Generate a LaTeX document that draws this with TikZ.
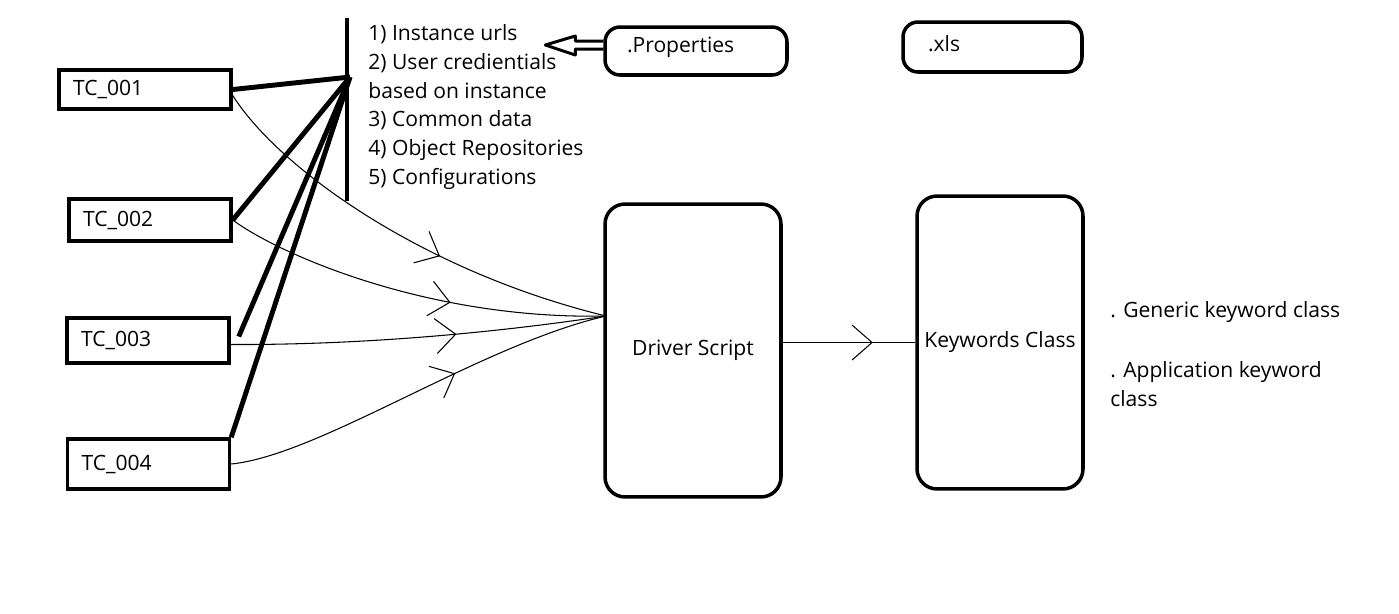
\documentclass[tikz,border=0pt]{standalone}
\usepackage{fontspec}
\setmainfont{Open Sans}
\usetikzlibrary{arrows.meta,decorations.markings}

\tikzset{
  tcbox/.style={draw, line width=2pt, inner xsep=0.28cm, text width=2.68cm, align=left},
  smallbox/.style={draw, line width=2pt, rounded corners=0.3cm, align=left},
  tallbox/.style={draw, line width=2pt, rounded corners=0.4cm, minimum height=5.86cm},
  heavy/.style={line width=2.8pt},
  hollow/.style={line width=1.7pt, line join=round},
  flow/.style={line width=0.6pt, postaction={decorate},
    decoration={markings, mark=at position #1 with {\arrow{Straight Barb[length=0.4cm,width=0.7cm]}}}},
  flow/.default=0.6
}

\begin{document}
\begin{tikzpicture}[x=0.02cm,y=-0.02cm,
  every node/.style={font=\fontsize{12pt}{16.4pt}\selectfont}]
  \fill[white] (0,0) rectangle (1399,613);
  \useasboundingbox (0,0) rectangle (1399,613);

  % test case boxes
  \node[tcbox, minimum height=0.78cm, text width=2.88cm] (tc1) at (145,89.5) {TC\_001};
  \node[tcbox, minimum height=0.84cm] (tc2) at (150,220) {TC\_002};
  \node[tcbox, minimum height=0.9cm]  (tc3) at (148,340.5) {TC\_003};
  \node[tcbox, minimum height=1.0cm]  (tc4) at (148.5,464) {TC\_004};

  % common inputs
  \coordinate (bartop) at (347,18);
  \coordinate (barbot) at (347,201);
  \coordinate (hub) at (350,77);
  \draw[heavy] (bartop) -- (barbot);
  \node[anchor=north west, inner sep=0, align=left] (list) at (368,24)
    {1) Instance urls\\2) User credientials\\based on instance\\3) Common data\\4) Object Repositories\\5) Configurations};

  \draw[heavy] (tc1.east) -- (hub);
  \draw[heavy] (tc2.east) -- (hub);
  \draw[heavy] ([xshift=0.16cm,yshift=0.08cm]tc3.east) -- (hub);
  \draw[heavy] (tc4.north east) -- (hub);

  % files
  \node[smallbox, minimum height=0.96cm, inner xsep=0.44cm, text width=2.76cm,
    text height=0.3cm, text depth=0.26cm] (props) at (696,51) {.Properties};
  \node[smallbox, minimum height=1.0cm, inner xsep=0.5cm, text width=2.58cm,
    text height=0.32cm, text depth=0.16cm] (xls) at (992.5,47) {.xls};
  \draw[hollow] ([yshift=0.2cm]props.west) -- ++(-28,0) -- ++(0,-5) -- ++(-30,9)
    -- ++(30,10) -- ++(0,-6) -- ([yshift=0.04cm]props.west);

  % driver and keywords
  \node[tallbox, minimum width=3.52cm] (driver) at (693,350.5) {Driver Script};
  \node[tallbox, minimum width=3.32cm] (kw) at (1000,342.5) {Keywords Class};
  \coordinate (drvin) at (606,316);

  \draw[flow] ([yshift=-0.12cm]tc1.east) .. controls (280,170) and (425,272) .. (drvin);
  \draw[flow] (tc2.east) .. controls (280,255) and (430,320) .. (drvin);
  \draw[flow] ([yshift=-0.08cm]tc3.east) .. controls (350,345) and (480,335) .. (drvin);
  \draw[flow] (tc4.east) .. controls (320,455) and (480,345) .. (drvin);
  \draw[flow=0.68] (driver.east |- kw.west) -- (kw.west);

  \node[anchor=west, inner sep=0] (gen) at (1110,312) {. Generic keyword class};
  \node[anchor=north west, inner sep=0, align=left] (app) at (1110,361) {. Application keyword\\class};
\end{tikzpicture}
\end{document}
